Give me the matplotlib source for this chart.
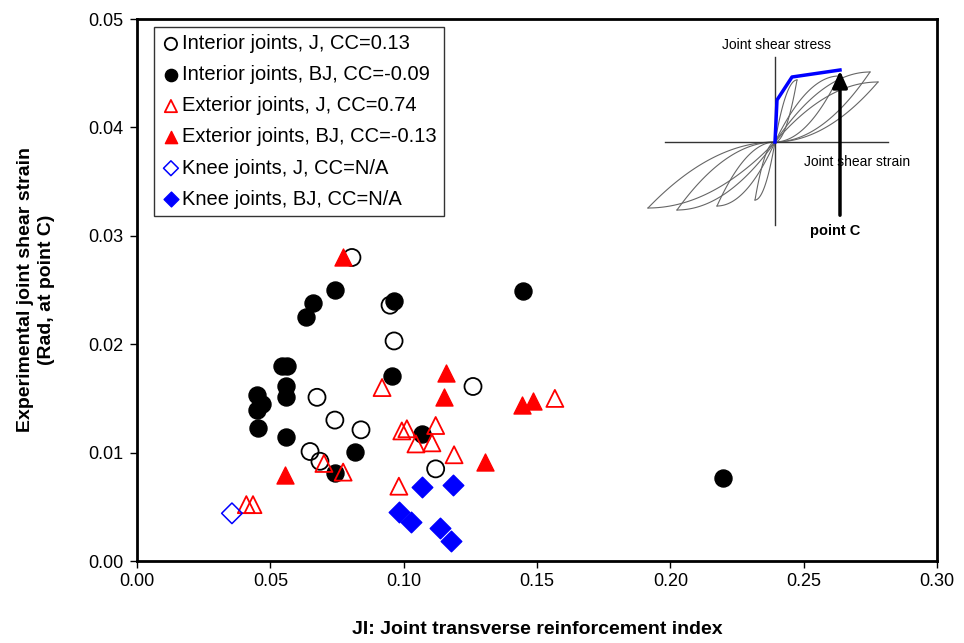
import numpy as np
import matplotlib.pyplot as plt

plt.rcParams['font.family'] = ['Liberation Sans', 'DejaVu Sans']

# interior joints, J model
int_j_x = [0.0806, 0.0949, 0.0964, 0.126, 0.0675, 0.0742, 0.084, 0.0649, 0.0686, 0.112]
int_j_y = [0.0280, 0.0236, 0.0203, 0.0161, 0.0151, 0.0130, 0.0121, 0.0101, 0.0092, 0.0085]

# interior joints, BJ model
int_bj_x = [0.0742, 0.066, 0.0634, 0.0964, 0.0544, 0.0562, 0.0559, 0.0559, 0.045, 0.0469,
            0.045, 0.0454, 0.0559, 0.0956, 0.0817, 0.0742, 0.107, 0.1447, 0.2196]
int_bj_y = [0.0250, 0.0238, 0.0225, 0.0240, 0.0180, 0.0180, 0.0161, 0.0151, 0.0153, 0.0145,
            0.0139, 0.0123, 0.0114, 0.0171, 0.0101, 0.0081, 0.0117, 0.0249, 0.0077]

# exterior joints, J model
ext_j_x = [0.0919, 0.0993, 0.1012, 0.112, 0.1046, 0.1106, 0.1189, 0.0982, 0.0701, 0.0773,
           0.1567, 0.041, 0.0435]
ext_j_y = [0.0160, 0.0120, 0.0122, 0.0125, 0.0108, 0.0109, 0.0098, 0.0069, 0.0090, 0.0082,
           0.0150, 0.0052, 0.0052]

# exterior joints, BJ model
ext_bj_x = [0.0773, 0.0555, 0.1159, 0.1151, 0.1444, 0.1485, 0.1305]
ext_bj_y = [0.0280, 0.0079, 0.0173, 0.0151, 0.0144, 0.0148, 0.0091]

# knee joints
knee_j_x = [0.0356]
knee_j_y = [0.0044]
knee_bj_x = [0.1069, 0.1185, 0.0982, 0.1027, 0.1136, 0.1177]
knee_bj_y = [0.0068, 0.0070, 0.0045, 0.0036, 0.0030, 0.0018]

labels = ['Interior joints, J, CC=0.13', 'Interior joints, BJ, CC=-0.09',
          'Exterior joints, J, CC=0.74', 'Exterior joints, BJ, CC=-0.13',
          'Knee joints, J, CC=N/A', 'Knee joints, BJ, CC=N/A']

# schematic hysteresis loops for the inset: reach right/left and height, in px
loop_xp = [22, 64, 95, 103]
loop_xn = [20, 58, 98, 127]
loop_hp = [62, 66, 70, 60]
loop_hn = [58, 64, 68, 66]
# envelope up to point C, px offsets from the inset origin
env_x = [0, 2, 17, 65]
env_y = [0, 42, 65, 72]

fig = plt.figure(figsize=(9.64, 6.43), dpi=100)
ax = fig.add_axes([137 / 964, 1 - 561 / 643, 800 / 964, 542 / 643])

ax.scatter(int_j_x, int_j_y, s=150, marker='o', facecolors='none', edgecolors='black',
           linewidths=1.3, label=labels[0], zorder=3)
ax.scatter(int_bj_x, int_bj_y, s=150, marker='o', color='black', label=labels[1], zorder=3)
ax.scatter(ext_j_x, ext_j_y, s=150, marker='^', facecolors='none', edgecolors='red',
           linewidths=1.3, label=labels[2], zorder=3)
ax.scatter(ext_bj_x, ext_bj_y, s=150, marker='^', color='red', label=labels[3], zorder=3)
ax.scatter(knee_j_x, knee_j_y, s=110, marker='D', facecolors='none', edgecolors='blue',
           linewidths=1.1, label=labels[4], zorder=3)
ax.scatter(knee_bj_x, knee_bj_y, s=110, marker='D', color='blue', label=labels[5], zorder=3)

ax.set_xlim(0, 0.30)
ax.set_ylim(0, 0.05)
ax.set_xticks(np.arange(0, 0.301, 0.05))
ax.set_yticks(np.arange(0, 0.051, 0.01))
ax.xaxis.set_major_formatter(plt.FormatStrFormatter('%.2f'))
ax.yaxis.set_major_formatter(plt.FormatStrFormatter('%.2f'))
ax.tick_params(direction='out', length=5, width=1, labelsize=13, pad=5)
ax.tick_params(axis='x', pad=4)
for sp in ax.spines.values():
    sp.set_linewidth(2)

ax.set_xlabel('JI: Joint transverse reinforcement index', fontsize=14, fontweight='bold', labelpad=22)
ax.set_ylabel('Experimental joint shear strain\n(Rad, at point C)', fontsize=14,
              fontweight='bold', labelpad=24, linespacing=1.25)

leg = ax.legend(loc='upper left', bbox_to_anchor=(0.021, 0.985), fontsize=14.5,
                frameon=True, fancybox=False, edgecolor='black', markerscale=0.72,
                handletextpad=0.05, handlelength=1.0, labelspacing=0.6,
                borderpad=0.35, borderaxespad=0)
leg.get_frame().set_linewidth(1)

# inset sketch drawn in pixel coordinates on a transparent overlay
ov = fig.add_axes([0, 0, 1, 1])
ov.set_xlim(0, 964)
ov.set_ylim(643, 0)
ov.axis('off')
ov.patch.set_alpha(0)

ox, oy = 775, 142
u = np.linspace(0, 1, 60)
for xp, xn, hp, hn in zip(loop_xp, loop_xn, loop_hp, loop_hn):
    # pinched branches: one stiff near the origin, one soft until the peak
    for reach, h, sgn in [(xp, hp, 1), (xn, hn, -1)]:
        stiff = h * (1 - (1 - u) ** 2)
        soft = h * u ** 2
        ov.plot(ox + sgn * reach * u, oy - sgn * stiff, color='#666666', lw=0.8)
        ov.plot(ox + sgn * reach * u, oy - sgn * soft, color='#666666', lw=0.8)

ov.plot([665, 888], [oy, oy], color='#333333', lw=1)
ov.plot([ox, ox], [57, 225], color='#333333', lw=1)
ov.plot(ox + np.array(env_x), oy - np.array(env_y), color='blue', lw=2.5)
ov.annotate('', xy=(840, 68), xytext=(840, 218),
            arrowprops=dict(arrowstyle='-|>,head_length=1.0,head_width=0.45', color='black', lw=2.5))
ov.text(777, 45, 'Joint shear stress', fontsize=10, ha='center', va='center')
ov.text(804, 162, 'Joint shear strain', fontsize=10, ha='left', va='center')
ov.text(835, 231, 'point C', fontsize=10.5, fontweight='bold', ha='center', va='center')

fig.savefig('out.png', dpi=100)
